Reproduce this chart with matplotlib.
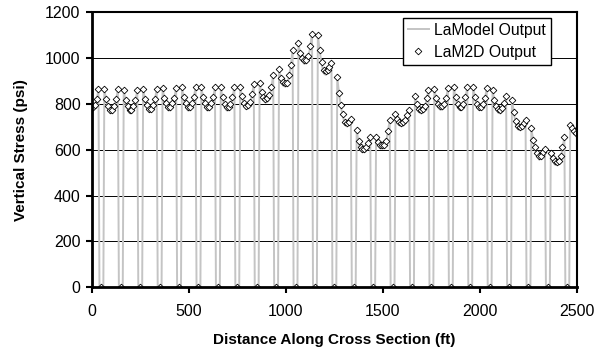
import numpy as np
import matplotlib
matplotlib.use("Agg")
import matplotlib.pyplot as plt

plt.rcParams['font.family'] = ['Liberation Sans', 'DejaVu Sans']

nan = np.nan

# pillar centres (ft) and offsets of the grid points across each pillar
pillar_x = list(range(0, 2600, 100))
offsets = [-35, -25, -15, -5, 5, 15, 25, 35]
# entries between pillars (stress = 0)
entry_x = list(range(50, 2500, 100))
entry_stress = [0] * len(entry_x)

# LaM2D output, one row per pillar (psi)
lam2d = [
    [nan, nan, nan, nan, 785, 797, 822, 866],
    [865, 820, 792, 774, 774, 792, 820, 865],
    [862, 818, 791, 774, 774, 791, 818, 862],
    [866, 823, 797, 780, 780, 797, 823, 866],
    [870, 828, 803, 786, 786, 803, 828, 870],
    [873, 830, 803, 786, 786, 803, 830, 873],
    [873, 830, 803, 786, 786, 803, 830, 873],
    [873, 830, 800, 786, 786, 800, 830, 876],
    [876, 835, 805, 792, 795, 810, 845, 886],
    [893, 854, 832, 821, 824, 840, 876, 927],
    [952, 915, 895, 891, 893, 927, 971, 1036],
    [1065, 1022, 1000, 990, 992, 1010, 1054, 1106],
    [1102, 1036, 985, 949, 942, 950, 962, 981],
    [917, 847, 796, 757, 723, 716, 722, 736],
    [687, 640, 611, 605, 605, 611, 630, 655],
    [658, 632, 621, 620, 622, 640, 682, 730],
    [757, 735, 722, 718, 720, 730, 752, 774],
    [835, 800, 780, 774, 776, 790, 825, 862],
    [865, 826, 798, 790, 790, 798, 828, 869],
    [876, 830, 800, 789, 789, 800, 830, 876],
    [876, 830, 800, 789, 789, 798, 826, 869],
    [862, 818, 790, 776, 774, 782, 805, 835],
    [818, 765, 725, 705, 701, 706, 715, 730],
    [694, 643, 611, 588, 572, 575, 590, 603],
    [588, 563, 550, 548, 552, 573, 611, 658],
    [709, 695, 683, 673, nan, nan, nan, nan],
]

# LaModel output, same grid (psi)
lamodel = [
    [nan, nan, nan, nan, 768, 782, 814, 866],
    [865, 812, 778, 760, 760, 778, 812, 865],
    [862, 810, 777, 760, 760, 777, 810, 862],
    [866, 815, 783, 766, 766, 783, 815, 866],
    [870, 820, 789, 772, 772, 789, 820, 870],
    [873, 822, 789, 772, 772, 789, 822, 873],
    [873, 822, 789, 772, 772, 789, 822, 873],
    [873, 822, 786, 772, 772, 786, 822, 876],
    [876, 827, 791, 778, 781, 796, 837, 886],
    [893, 846, 818, 806, 809, 826, 868, 927],
    [952, 907, 881, 876, 878, 913, 963, 1036],
    [1065, 1014, 986, 975, 977, 996, 1046, 1106],
    [1102, 1028, 971, 934, 927, 936, 954, 981],
    [917, 839, 782, 742, 708, 702, 714, 736],
    [687, 632, 597, 590, 590, 597, 622, 655],
    [658, 624, 607, 605, 607, 626, 674, 730],
    [757, 727, 708, 703, 705, 716, 744, 774],
    [835, 792, 766, 759, 761, 776, 817, 862],
    [865, 818, 784, 775, 775, 784, 820, 869],
    [876, 822, 786, 774, 774, 786, 822, 876],
    [876, 822, 786, 774, 774, 784, 818, 869],
    [862, 810, 776, 761, 759, 768, 797, 835],
    [818, 757, 711, 690, 686, 692, 707, 730],
    [694, 635, 597, 573, 557, 561, 582, 603],
    [588, 555, 536, 533, 537, 559, 603, 658],
    [709, 687, 671, 660, nan, nan, nan, nan],
]

# assemble the LaModel line: pillar profile, then drop to zero across the entry
line_x, line_y = [], []
for i, c in enumerate(pillar_x):
    for off, v in zip(offsets, lamodel[i]):
        if not np.isnan(v):
            line_x.append(c + off)
            line_y.append(v)
    if i < len(pillar_x) - 1:
        line_x += [c + 40, c + 60]
        line_y += [0, 0]

# LaM2D points: pillar points plus zero at entry centres
pts_x, pts_y = [], []
for i, c in enumerate(pillar_x):
    for off, v in zip(offsets, lam2d[i]):
        if not np.isnan(v):
            pts_x.append(c + off)
            pts_y.append(v)
pts_x += entry_x
pts_y += entry_stress

fig = plt.figure(figsize=(5.97, 3.6), dpi=100)
ax = fig.add_axes([0.1536, 0.2019, 0.8129, 0.7639])

ax.plot(line_x, line_y, color='#c4c4c4', lw=1.4, zorder=2, label='LaModel Output')
ax.plot(pts_x, pts_y, ls='none', marker='D', ms=3.4, mfc='white', mec='black',
        mew=0.6, zorder=3, label='LaM2D Output')

ax.set_xlim(0, 2500)
ax.set_ylim(0, 1200)
ax.set_xticks([0, 500, 1000, 1500, 2000, 2500])
ax.set_yticks([0, 200, 400, 600, 800, 1000, 1200])
for y in [200, 400, 600, 800, 1000]:
    ax.axhline(y, color='black', lw=0.7, zorder=1)

for s in ['left', 'bottom']:
    ax.spines[s].set_linewidth(2.0)
for s in ['top', 'right']:
    ax.spines[s].set_linewidth(1.5)
for s in ax.spines.values():
    s.set_zorder(4)
ax.tick_params(direction='out', length=4, width=1.5, labelsize=11.5)
ax.tick_params(axis='y', pad=4)
ax.tick_params(axis='x', pad=8)

ax.set_xlabel('Distance Along Cross Section (ft)', fontsize=11, fontweight='bold', labelpad=10)
ax.set_ylabel('Vertical Stress (psi)', fontsize=11, fontweight='bold', labelpad=12)

leg = ax.legend(loc='upper right', bbox_to_anchor=(0.946, 0.979), fontsize=11.3,
                frameon=True, fancybox=False, framealpha=1, edgecolor='black',
                handlelength=1.35, handletextpad=0.35, borderpad=0.3, labelspacing=0.45,
                borderaxespad=0)
leg.get_frame().set_linewidth(1.0)
leg.set_zorder(5)

fig.savefig('out.png', dpi=100)
